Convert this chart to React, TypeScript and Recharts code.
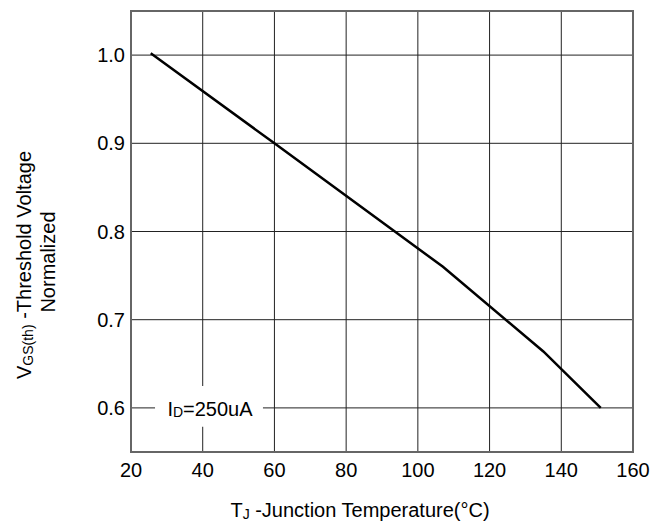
import React from "react";
import {
  LineChart,
  Line,
  XAxis,
  YAxis,
  CartesianGrid,
  ReferenceArea,
} from "recharts";

// ─── Data ────────────────────────────────────────────────────────────────────

const junctionTemp = [25.5, 60, 107, 135, 151];
const thresholdNormalized = [1.002, 0.9, 0.76, 0.664, 0.6];
const xTicks = [20, 40, 60, 80, 100, 120, 140, 160];
const yTicks = [0.6, 0.7, 0.8, 0.9, 1.0];

const data = junctionTemp.map((t, i) => ({ t, v: thresholdNormalized[i] }));

const FONT = "'Liberation Sans', Arial, sans-serif";

// ─── Axis titles ─────────────────────────────────────────────────────────────

function YTitle() {
  return (
    <g fontFamily={FONT} fill="#000" fontSize={20}>
      <text x={31} y={265} textAnchor="middle" transform="rotate(-90, 31, 265)">
        V<tspan fontSize={14} dy={2}>GS(th)</tspan>
        <tspan dy={-2}> -Threshold Voltage</tspan>
      </text>
      <text x={55} y={262} textAnchor="middle" transform="rotate(-90, 55, 262)">
        Normalized
      </text>
    </g>
  );
}

function XTitle() {
  return (
    <text x={360} y={517} textAnchor="middle" fontFamily={FONT} fontSize={20} fill="#000">
      T<tspan fontSize={14} dy={2}>J</tspan>
      <tspan dy={-2}> -Junction Temperature(°C)</tspan>
    </text>
  );
}

function ConditionLabel(props: any) {
  const vb = props.viewBox || {};
  const cx = vb.x + vb.width / 2;
  return (
    <text x={cx + 1} y={416} textAnchor="middle" fontFamily={FONT} fontSize={20} fill="#000">
      I<tspan fontSize={14} dy={1}>D</tspan>
      <tspan dy={-1}>=250uA</tspan>
    </text>
  );
}

export default function App() {
  return (
    <div style={{ position: "absolute", left: 0, top: 0, background: "#fff" }}>
      <LineChart
        width={664}
        height={525}
        data={data}
        margin={{ top: 11, right: 31, left: 0, bottom: 0 }}
      >
        <CartesianGrid stroke="#222" strokeWidth={1} />
        <XAxis
          type="number"
          dataKey="t"
          domain={[20, 160]}
          ticks={xTicks}
          height={73}
          axisLine={false}
          tickLine={false}
          tickSize={0}
          tickMargin={11}
          tick={{ fontSize: 20, fill: "#000", fontFamily: FONT }}
          label={{ content: () => <XTitle /> }}
        />
        <YAxis
          type="number"
          domain={[0.55, 1.05]}
          ticks={yTicks}
          width={131}
          axisLine={false}
          tickLine={false}
          tickSize={0}
          tickMargin={6}
          tickFormatter={(v: number) => v.toFixed(1)}
          tick={{ fontSize: 20, fill: "#000", fontFamily: FONT }}
          label={{ content: () => <YTitle /> }}
        />
        {/* plot frame */}
        <ReferenceArea
          x1={20}
          x2={160}
          y1={0.55}
          y2={1.05}
          fill="none"
          stroke="#666"
          strokeWidth={2}
        />
        {/* white box behind the test condition */}
        <ReferenceArea
          x1={26.7}
          x2={56.8}
          y1={0.5786}
          y2={0.6248}
          fill="#fff"
          fillOpacity={1}
          stroke="none"
          label={<ConditionLabel />}
        />
        <Line
          type="linear"
          dataKey="v"
          stroke="#000"
          strokeWidth={2.5}
          dot={false}
          isAnimationActive={false}
        />
      </LineChart>
    </div>
  );
}
